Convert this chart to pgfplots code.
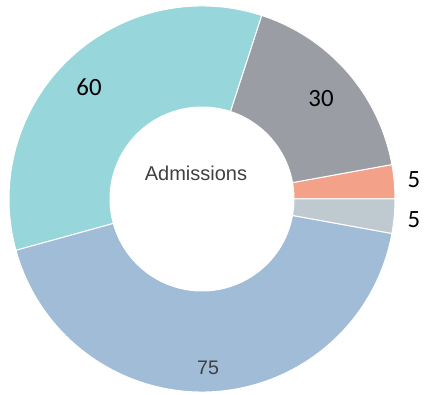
\documentclass[border=0pt]{standalone}
\usepackage{pgfplots}
\pgfplotsset{compat=1.18}
\usepackage{pgfplotstable}
\usepackage{fontspec}
\setmainfont{Liberation Sans}
\newfontfamily\calib{Carlito}
\definecolor{cSalmon}{HTML}{F4A189}
\definecolor{cGray}{HTML}{9B9DA5}
\definecolor{cTeal}{HTML}{97D6DB}
\definecolor{cBlue}{HTML}{A1BCD6}
\definecolor{cLight}{HTML}{BFCAD0}
\definecolor{txtgray}{HTML}{404040}
\pgfplotstableread{
value col
5 cSalmon
30 cGray
60 cTeal
75 cBlue
5 cLight
}\pie
\begin{document}
\begin{tikzpicture}
\begin{axis}[
  x=0.75pt, y=0.75pt,
  xmin=-202, xmax=222, ymin=-196, ymax=199,
  hide axis, clip=false,
]
\pgfplotsextra{
  \gdef\tot{0}
  \pgfplotstableforeachcolumnelement{value}\of\pie\as\v{%
    \pgfmathparse{\tot+\v}\xdef\tot{\pgfmathresult}}
  \gdef\cum{0}
  \def\Rout{144.75pt}
  \def\Rin{69pt}
  \begin{scope}[shift={(axis cs:0,0)}]
  \pgfplotstableforeachcolumnelement{value}\of\pie\as\v{%
    \pgfplotstablegetelem{\pgfplotstablerow}{col}\of\pie
    \edef\c{\pgfplotsretval}%
    \pgfmathsetmacro\a{\cum/\tot*360}%
    \pgfmathsetmacro\b{(\cum+\v)/\tot*360}%
    \fill[fill=\c, draw=white, line width=0.75pt]
      (\a:\Rout) arc[start angle=\a, end angle=\b, radius=\Rout]
      -- (\b:\Rin) arc[start angle=\b, end angle=\a, radius=\Rin] -- cycle;
    \pgfmathparse{\cum+\v}\xdef\cum{\pgfmathresult}%
  }
  \end{scope}
}
\node[font=\calib\fontsize{18.6}{20}\selectfont] at (axis cs:-113,112) {60};
\node[font=\calib\fontsize{18.6}{20}\selectfont] at (axis cs:119,100) {30};
\node[font=\calib\fontsize{18.6}{20}\selectfont] at (axis cs:212,19) {5};
\node[font=\calib\fontsize{18.6}{20}\selectfont] at (axis cs:212,-21) {5};
\node[font=\fontsize{14.7}{16}\selectfont, text=txtgray] at (axis cs:6,-169) {75};
\node[font=\fontsize{15}{17}\selectfont, text=txtgray] at (axis cs:-6,26) {Admissions};
\end{axis}
\pgfresetboundingbox
\useasboundingbox (current axis.south west) rectangle (current axis.north east);
\end{tikzpicture}
\end{document}
